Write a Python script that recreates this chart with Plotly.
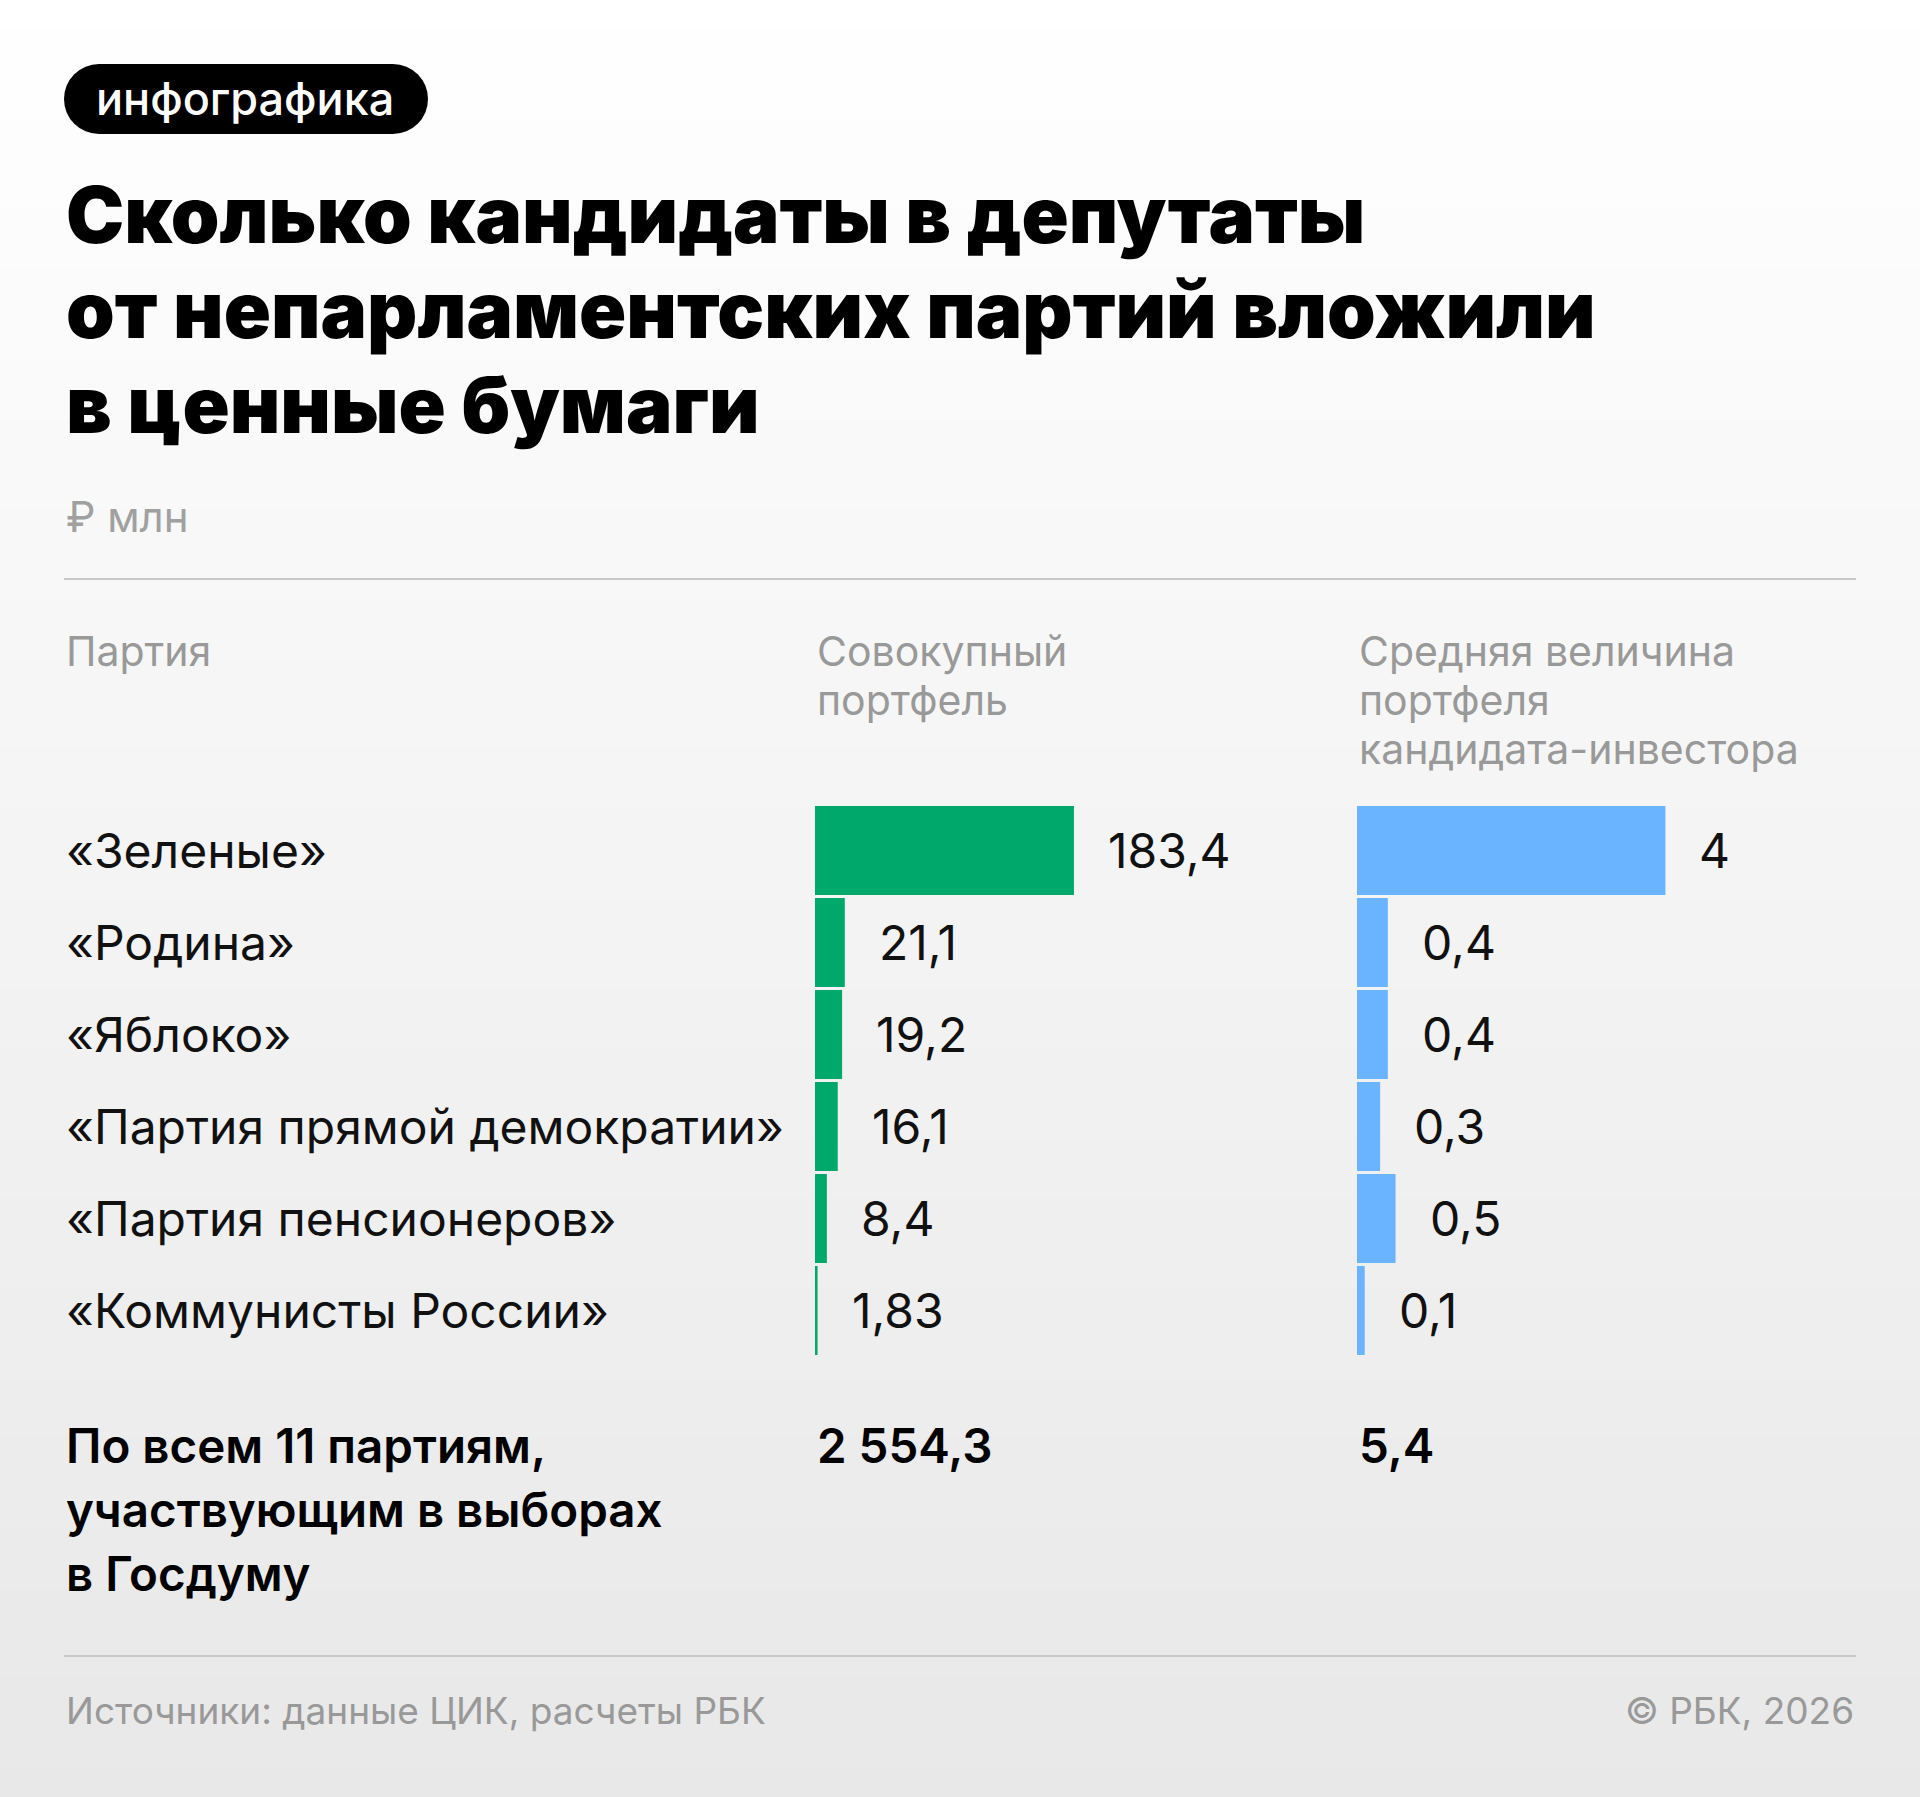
import plotly.graph_objects as go

W, H = 1920, 1797

parties = ["«Зеленые»", "«Родина»", "«Яблоко»", "«Партия прямой демократии»",
           "«Партия пенсионеров»", "«Коммунисты России»"]
total_portfolio = [183.4, 21.1, 19.2, 16.1, 8.4, 1.83]
total_labels = ["183,4", "21,1", "19,2", "16,1", "8,4", "1,83"]
avg_portfolio = [4, 0.4, 0.4, 0.3, 0.5, 0.1]
avg_labels = ["4", "0,4", "0,4", "0,3", "0,5", "0,1"]

header_party = "Партия"
header_total = ["Совокупный", "портфель"]
header_avg = ["Средняя величина", "портфеля", "кандидата-инвестора"]
sum_label = ["По всем 11 партиям,", "участвующим в выборах", "в Госдуму"]
sum_total = "2 554,3"
sum_avg = "5,4"

GREEN = "#00a86b"
BLUE = "#6ab4ff"
GRAY = "#999999"
FONT = "Inter"


def px(x):
    return x / W


def py(y):
    return 1 - y / H


def text(x, baseline, s, size, color="#111111", weight=400, anchor="left"):
    # plotly centres text at ~0.35em above the baseline
    return dict(x=px(x), y=py(baseline - 0.35 * size), xref="paper", yref="paper",
                text=s, showarrow=False, xanchor=anchor, yanchor="middle",
                font=dict(family=FONT, size=size, color=color, weight=weight))


fig = go.Figure()
rows = list(range(len(parties)))
fig.add_trace(go.Bar(x=total_portfolio, y=rows, orientation="h", width=0.967,
                     marker=dict(color=GREEN, line=dict(width=0)), xaxis="x", yaxis="y",
                     hoverinfo="skip"))
fig.add_trace(go.Bar(x=avg_portfolio, y=rows, orientation="h", width=0.967,
                     marker=dict(color=BLUE, line=dict(width=0)), xaxis="x2", yaxis="y",
                     hoverinfo="skip"))

# background gradient, drawn as thin bands
shapes = []
n = 60
for i in range(n):
    c = round(255 - (255 - 232) * (i + 0.5) / n)
    shapes.append(dict(type="rect", xref="paper", yref="paper", x0=0, x1=1,
                       y0=py(H * (i + 1) / n) - 0.001, y1=py(H * i / n),
                       fillcolor=f"rgb({c},{c},{c})", line=dict(width=0), layer="below"))

# pill
for x0, x1 in [(64, 134), (358, 428)]:
    shapes.append(dict(type="circle", xref="paper", yref="paper", x0=px(x0), x1=px(x1),
                       y0=py(134), y1=py(64), fillcolor="#000000", line=dict(width=0)))
shapes.append(dict(type="rect", xref="paper", yref="paper", x0=px(99), x1=px(393),
                   y0=py(134), y1=py(64), fillcolor="#000000", line=dict(width=0)))

# separators
for y in [579, 1656]:
    shapes.append(dict(type="line", xref="paper", yref="paper", x0=px(64), x1=px(1856),
                       y0=py(y), y1=py(y), line=dict(color="#c8c8c8", width=2)))

ann = []
ann.append(text(94, 114, "инфографика", 45, "#ffffff", 500))
title_lines = ["Сколько кандидаты в депутаты", "от непарламентских партий вложили",
               "в ценные бумаги"]
for i, line in enumerate(title_lines):
    ann.append(text(64, 242 + 95 * i, line, 78, "#000000", 900))
ann.append(text(64, 531, "₽ млн", 42, "#a0a0a0"))

ann.append(text(64, 665, header_party, 41, GRAY))
for i, line in enumerate(header_total):
    ann.append(text(815, 665 + 49 * i, line, 41, GRAY))
for i, line in enumerate(header_avg):
    ann.append(text(1357, 665 + 49 * i, line, 41, GRAY))

for i, name in enumerate(parties):
    ann.append(dict(x=px(64), y=i, xref="paper", yref="y", text=name, showarrow=False,
                    xanchor="left", yanchor="middle",
                    font=dict(family=FONT, size=48, color="#111111")))
    ann.append(dict(x=total_portfolio[i], y=i, xref="x", yref="y", text=total_labels[i],
                    showarrow=False, xanchor="left", yanchor="middle", xshift=32,
                    font=dict(family=FONT, size=48, color="#111111")))
    ann.append(dict(x=avg_portfolio[i], y=i, xref="x2", yref="y", text=avg_labels[i],
                    showarrow=False, xanchor="left", yanchor="middle", xshift=32,
                    font=dict(family=FONT, size=48, color="#111111")))

for i, line in enumerate(sum_label):
    ann.append(text(64, 1462 + 64 * i, line, 47.5, "#000000", 600))
ann.append(text(815, 1462, sum_total, 47.5, "#000000", 600))
ann.append(text(1357, 1462, sum_avg, 47.5, "#000000", 600))

ann.append(text(64, 1723, "Источники: данные ЦИК, расчеты РБК", 37, GRAY))
ann.append(text(1856, 1723, "© РБК, 2026", 37, GRAY, anchor="right"))

fig.update_layout(
    width=W, height=H, margin=dict(l=0, r=0, t=0, b=0),
    paper_bgcolor="#f2f2f2", plot_bgcolor="rgba(0,0,0,0)",
    showlegend=False, barmode="overlay",
    xaxis=dict(domain=[px(815), px(1300)], range=[0, 485 / 1.412], visible=False,
               fixedrange=True),
    xaxis2=dict(domain=[px(1357), px(1856)], range=[0, 499 / 77.1], visible=False,
                fixedrange=True, anchor="y"),
    yaxis=dict(domain=[py(1356.5), py(804.5)], range=[5.5, -0.5], visible=False,
               fixedrange=True),
    shapes=shapes, annotations=ann,
)

# drop the browser's default body margin so the figure sits at the page corner
fig.write_html("out.html", config={"displayModeBar": False},
               post_script="document.body.style.margin='0';")
